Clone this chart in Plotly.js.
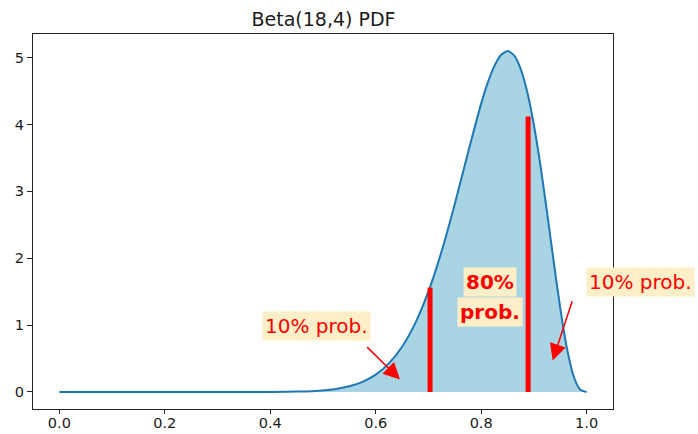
<!DOCTYPE html>
<html>
<head>
<meta charset="utf-8">
<script src="https://cdn.plot.ly/plotly-3.0.1.min.js"></script>
<style>html,body{margin:0;padding:0;background:#fff;}#chart{width:698px;height:434px;}</style>
</head>
<body>
<div id="chart"></div>
<script>
// Beta(18,4) PDF
const pdfX = [0, 0.1, 0.2, 0.3, 0.35, 0.4, 0.45, 0.5, 0.525, 0.55, 0.575, 0.6, 0.625, 0.65, 0.675, 0.7, 0.725, 0.75, 0.775, 0.8, 0.8125, 0.825, 0.8375, 0.85, 0.8625, 0.875, 0.8875, 0.9, 0.9125, 0.925, 0.9375, 0.95, 0.9625, 0.975, 0.9875, 1.0];
const pdfY = [0, 0, 0, 0.00001, 0.0001, 0.0009, 0.0051, 0.0228, 0.0449, 0.0842, 0.151, 0.259, 0.428, 0.677, 1.030, 1.504, 2.104, 2.812, 3.579, 4.313, 4.626, 4.874, 5.040, 5.099, 5.034, 4.830, 4.482, 3.993, 3.381, 2.684, 1.951, 1.251, 0.659, 0.243, 0.038, 0];

// red quantile markers (10% and 90%)
const quantileX = [0.703, 0.889];
const quantileTop = [1.56, 4.12];

// annotation labels (data units; converted to paper so off-range labels still show)
const labelTexts = ["10% prob.", "10% prob.", "80%", "prob."];
const labelX = [0.487, 1.102, 0.817, 0.817];
const labelY = [0.99, 1.64, 1.64, 1.2];
const labelBold = [false, false, true, true];

// arrows: head and tail in data units
const arrowHeadX = [0.646, 0.9356];
const arrowHeadY = [0.186, 0.469];
const arrowTailX = [0.581, 0.9735];
const arrowTailY = [0.693, 1.378];

const xTicks = [0.0, 0.2, 0.4, 0.6, 0.8, 1.0];
const xTickText = ["0.0", "0.2", "0.4", "0.6", "0.8", "1.0"];
const yTicks = [0, 1, 2, 3, 4, 5];

const xRange = [-0.05, 1.05];
const yRange = [-0.255, 5.354];

const traces = [{
  x: pdfX, y: pdfY, type: 'scatter', mode: 'lines',
  line: {color: '#1f77b4', width: 2, shape: 'spline', smoothing: 0.6},
  fill: 'tozeroy', fillcolor: '#A8D4E4', hoverinfo: 'skip'
}];
quantileX.forEach((q, i) => {
  traces.push({
    x: [q, q], y: [0, quantileTop[i]], type: 'scatter', mode: 'lines',
    line: {color: '#ff0000', width: 5}, hoverinfo: 'skip'
  });
});

const toPaperX = v => (v - xRange[0]) / (xRange[1] - xRange[0]);
const toPaperY = v => (v - yRange[0]) / (yRange[1] - yRange[0]);

const annotations = [];
labelTexts.forEach((t, i) => {
  annotations.push({
    x: toPaperX(labelX[i]), y: toPaperY(labelY[i]), xref: 'paper', yref: 'paper',
    text: labelBold[i] ? '<b>' + t + '</b>' : t,
    showarrow: false, xanchor: 'center', yanchor: 'middle',
    font: {family: 'DejaVu Sans', size: 20, color: '#ff0000'},
    bgcolor: '#FFEFC8', borderpad: 2
  });
});
arrowHeadX.forEach((hx, i) => {
  annotations.push({
    x: hx, y: arrowHeadY[i], xref: 'x', yref: 'y',
    ax: arrowTailX[i], ay: arrowTailY[i], axref: 'x', ayref: 'y',
    text: '', showarrow: true, arrowhead: 2, arrowsize: 2.2, arrowwidth: 1.5,
    arrowcolor: '#ff0000', standoff: 0, startstandoff: 0
  });
});

const layout = {
  width: 698, height: 434,
  margin: {l: 33, r: 85, t: 34, b: 25},
  paper_bgcolor: '#ffffff', plot_bgcolor: '#ffffff',
  showlegend: false,
  title: {text: 'Beta(18,4) PDF', x: 0.4635, xanchor: 'center', y: 0.955, yanchor: 'middle',
          font: {family: 'DejaVu Sans', size: 19, color: '#1a1a1a'}},
  xaxis: {range: xRange, tickvals: xTicks, ticktext: xTickText,
          showgrid: false, zeroline: false, showline: true, mirror: true,
          linecolor: '#222', linewidth: 1, ticks: 'outside', ticklen: 4, tickcolor: '#222',
          ticklabelstandoff: -3,
          tickfont: {family: 'DejaVu Sans', size: 14.5, color: '#1a1a1a'}},
  yaxis: {range: yRange, tickvals: yTicks,
          showgrid: false, zeroline: false, showline: true, mirror: true,
          linecolor: '#222', linewidth: 1, ticks: 'outside', ticklen: 5, tickcolor: '#222',
          tickfont: {family: 'DejaVu Sans', size: 14.5, color: '#1a1a1a'}},
  annotations: annotations
};

Plotly.newPlot('chart', traces, layout, {displayModeBar: false, staticPlot: true});
</script>
</body>
</html>
